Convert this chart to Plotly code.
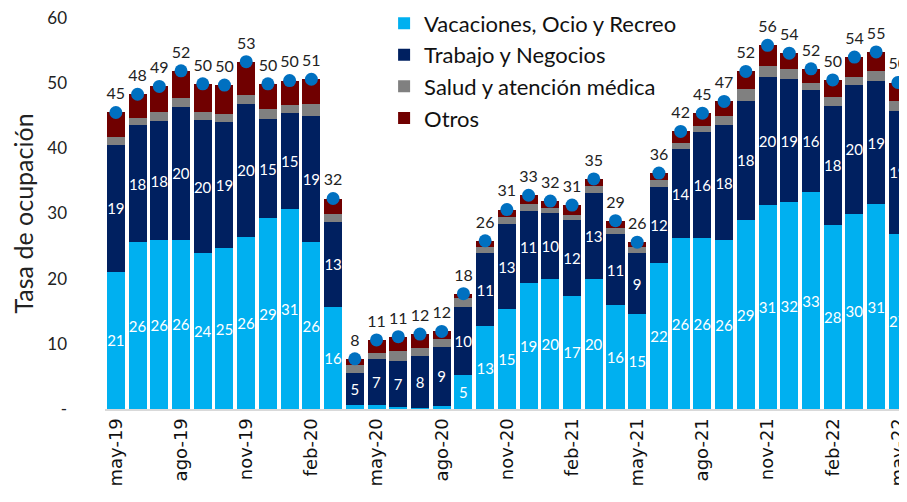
import numpy as np
import plotly.graph_objects as go

# Meses (may-19 a may-22)
months = ['may-19', 'jun-19', 'jul-19', 'ago-19', 'sep-19', 'oct-19', 'nov-19', 'dic-19',
          'ene-20', 'feb-20', 'mar-20', 'abr-20', 'may-20', 'jun-20', 'jul-20', 'ago-20',
          'sep-20', 'oct-20', 'nov-20', 'dic-20', 'ene-21', 'feb-21', 'mar-21', 'abr-21',
          'may-21', 'jun-21', 'jul-21', 'ago-21', 'sep-21', 'oct-21', 'nov-21', 'dic-21',
          'ene-22', 'feb-22', 'mar-22', 'abr-22', 'may-22']

vacaciones = [21.1, 25.6, 25.9, 26.0, 23.9, 24.7, 26.4, 29.3, 30.7, 25.6, 15.7, 0.6,
              0.6, 0.35, 0.1, 0.5, 5.2, 12.7, 15.3, 19.4, 19.9, 17.4, 19.9, 15.9,
              14.6, 22.4, 26.2, 26.2, 25.9, 29.0, 31.3, 31.7, 33.3, 28.3, 30.0, 31.4, 26.9]
trabajo = [19.4, 18.0, 18.3, 20.4, 20.4, 19.3, 20.4, 15.2, 14.7, 19.4, 13.0, 5.0,
           7.0, 7.05, 8.0, 9.0, 10.4, 11.2, 13.1, 11.0, 10.2, 11.6, 13.2, 10.9,
           9.3, 11.6, 13.7, 16.3, 17.7, 18.3, 19.7, 18.9, 15.7, 18.2, 19.7, 18.9, 18.8]
salud = [1.2, 1.1, 1.4, 1.4, 1.3, 1.3, 1.4, 1.5, 1.3, 1.8, 1.3, 1.1,
         1.0, 1.5, 1.2, 1.3, 1.4, 1.0, 1.0, 1.1, 0.7, 0.8, 1.1, 1.0,
         1.0, 1.1, 0.9, 1.0, 1.4, 1.8, 1.6, 1.5, 1.1, 1.4, 1.3, 1.5, 1.5]
otros = [3.8, 3.6, 3.9, 4.1, 4.3, 4.4, 5.1, 3.9, 3.7, 3.8, 2.3, 1.0,
         2.0, 2.2, 2.2, 1.1, 0.7, 0.9, 1.2, 1.3, 1.1, 1.5, 1.1, 1.1,
         0.7, 1.1, 1.8, 1.9, 2.2, 2.7, 3.2, 2.5, 2.1, 2.6, 3.0, 3.0, 2.9]
totales = [45, 48, 49, 52, 50, 50, 53, 50, 50, 51, 32, 8, 11, 11, 12, 12, 18, 26, 31,
           33, 32, 31, 35, 29, 26, 36, 42, 45, 47, 52, 56, 54, 52, 50, 54, 55, 50]

tick_months = months[::3]
y_ticks = [0, 10, 20, 30, 40, 50, 60]
y_tick_labels = ['-', '10', '20', '30', '40', '50', '60']

FONT = 'Lato'
tops = np.array(vacaciones) + np.array(trabajo) + np.array(salud) + np.array(otros)

def seg_labels(vals):
    return [f'{v:.0f}' if v >= 2 else '' for v in vals]

fig = go.Figure()

series = [
    ('Vacaciones, Ocio y Recreo', vacaciones, '#00B0F0', True),
    ('Trabajo y Negocios', trabajo, '#002060', True),
    ('Salud y atención médica', salud, '#808080', False),
    ('Otros', otros, '#700000', False),
]
for name, vals, color, labelled in series:
    fig.add_trace(go.Bar(
        x=months, y=vals, name=name, legendgroup=name,
        marker=dict(color=color, line=dict(width=0)),
        text=seg_labels(vals) if labelled else None,
        textposition='inside' if labelled else 'none',
        insidetextanchor='middle', textangle=0,
        textfont=dict(family=FONT, size=15, color='white'),
    ))

# Total con punto azul
fig.add_trace(go.Scatter(
    x=months, y=tops, mode='markers+text', showlegend=False,
    marker=dict(color='#0070C0', size=13),
    text=[str(t) for t in totales], textposition='top center',
    textfont=dict(family=FONT, size=16, color='#222222'),
    cliponaxis=False,
))

# la página añade 8 px de margen al body: figura de 899x494 para caber en 907x502
fig.update_layout(
    width=899, height=494,
    barmode='stack', bargap=0.17,
    plot_bgcolor='white', paper_bgcolor='white',
    margin=dict(l=97, r=0, t=10, b=93, autoexpand=False),
    font=dict(family=FONT, color='#222222'),
    uniformtext=dict(minsize=15, mode='show'),
    legend=dict(
        x=0.348, y=1.04, xanchor='left', yanchor='top',
        font=dict(family=FONT, size=22, color='#111111'),
        traceorder='grouped', tracegroupgap=0,
        bgcolor='rgba(0,0,0,0)', itemwidth=30,
    ),
    showlegend=True,
)

fig.update_xaxes(
    type='category', range=[-0.5, 36.42], automargin=False,
    tickmode='array', tickvals=tick_months, ticktext=tick_months,
    tickangle=-90, tickfont=dict(family='DejaVu Sans', size=18, color='#111111'),
    ticklabeloverflow='allow',
    showline=True, linecolor='#D9D9D9', linewidth=2,
    showgrid=False, ticks='',
)
fig.update_yaxes(
    range=[0, 60], automargin=False,
    tickmode='array', tickvals=y_ticks, ticktext=y_tick_labels,
    tickfont=dict(family=FONT, size=17, color='#222222'),
    ticklabeloverflow='allow',
    showgrid=False, zeroline=False, showline=False, ticks='',
    ticklabelstandoff=37,
    title=dict(text='Tasa de ocupación', font=dict(family=FONT, size=25, color='#222222'), standoff=13),
)

fig.write_html('out.html')
